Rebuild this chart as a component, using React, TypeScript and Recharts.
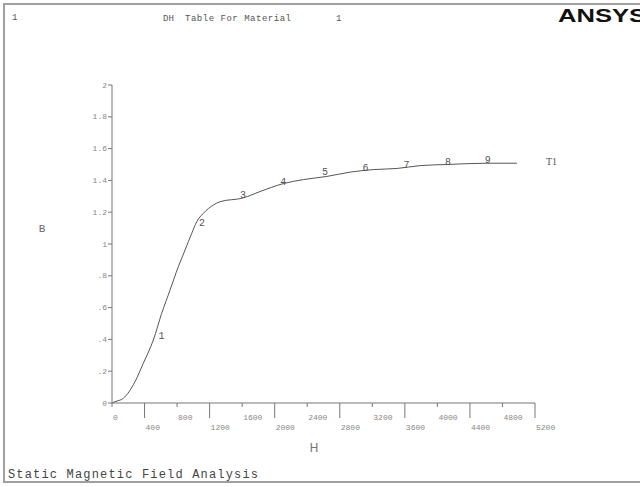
import React from "react";
import { ComposedChart, Line, Scatter, XAxis, YAxis } from "recharts";

const curveH = [0, 37, 140, 283, 385, 508, 611, 713, 815, 898, 980, 1042, 1123, 1246, 1328, 1615, 1820, 2107, 2353, 2641, 2927, 3214, 3502, 3788, 4117, 4609, 4978];
const curveB = [0, 0.008, 0.03, 0.134, 0.25, 0.396, 0.564, 0.71, 0.857, 0.962, 1.067, 1.14, 1.193, 1.245, 1.266, 1.29, 1.33, 1.38, 1.405, 1.425, 1.452, 1.468, 1.475, 1.493, 1.5, 1.508, 1.508];

const markH = [610, 1105, 1610, 2105, 2620, 3115, 3620, 4130, 4620];
const markB = [0.42, 1.13, 1.31, 1.39, 1.45, 1.475, 1.495, 1.517, 1.527];
const markText = ["1", "2", "3", "4", "5", "6", "7", "8", "9"];

const xTicks = [0, 400, 800, 1200, 1600, 2000, 2400, 2800, 3200, 3600, 4000, 4400, 4800, 5200];
const xTickLabels = ["0", "400", "800", "1200", "1600", "2000", "2400", "2800", "3200", "3600", "4000", "4400", "4800", "5200"];
const yTicks = [0, 0.2, 0.4, 0.6, 0.8, 1, 1.2, 1.4, 1.6, 1.8, 2];
const yTickLabels = ["0", ".2", ".4", ".6", ".8", "1", "1.2", "1.4", "1.6", "1.8", "2"];

const seriesName = "T1";
const titleParts = ["DH", "Table For Material", "1"];
const windowNo = "1";
const xLabel = "H";
const yLabel = "B";
const footer = "Static Magnetic Field Analysis";
const logo = "ANSYS";

const curve = curveH.map((h, i) => ({ H: h, B: curveB[i] }));
const marks = markH.map((h, i) => ({ H: h, B: markB[i], t: markText[i] }));

const MONO = "'Liberation Mono', 'DejaVu Sans Mono', monospace";
const AXIS = "#777";

const XTick = (props: any) => {
  const { x, y, index } = props;
  const odd = index % 2 === 1;
  return (
    <g>
      <line x1={x} x2={x} y1={y} y2={y + (odd ? 15 : 4)} stroke={AXIS} strokeWidth={1} />
      <text x={x + 1} y={y + (odd ? 27 : 17)} fontFamily={MONO} fontSize={8} fill="#888">
        {xTickLabels[index]}
      </text>
    </g>
  );
};

const YTick = (props: any) => {
  const { x, y, index } = props;
  return (
    <g>
      <line x1={x - 4} x2={x} y1={y} y2={y} stroke={AXIS} strokeWidth={1} />
      <text x={x - 5} y={y + 2.5} textAnchor="end" fontFamily={MONO} fontSize={8} fill="#888">
        {yTickLabels[index]}
      </text>
    </g>
  );
};

const MarkShape = (props: any) => {
  const { cx, cy, payload } = props;
  return (
    <text x={cx} y={cy + 3} textAnchor="middle" fontFamily={MONO} fontSize={10} fill="#555">
      {payload.t}
    </text>
  );
};

const EndLabel = (props: any) => {
  const { x, y, index } = props;
  if (index !== curve.length - 1) return null;
  return (
    <text x={x + 29} y={y + 2} fontFamily="'Liberation Serif', serif" fontSize={10} fill="#555">
      {seriesName}
    </text>
  );
};

export default function App() {
  return (
    <div style={{ position: "absolute", left: 0, top: 0, width: 640, height: 487, background: "#fff", overflow: "hidden" }}>
      <svg width={640} height={487} style={{ position: "absolute", left: 0, top: 0 }}>
        <rect x={4} y={4} width={660} height={478} fill="none" stroke="#a0a0a0" strokeWidth={2} />
        <text x={12} y={20} fontFamily={MONO} fontSize={9} fill="#555">{windowNo}</text>
        <text x={163} y={21} fontFamily={MONO} fontSize={9} fill="#555">{titleParts[0]}</text>
        <text x={185} y={21} fontFamily={MONO} fontSize={9} fill="#555" textLength={106} lengthAdjust="spacing">{titleParts[1]}</text>
        <text x={336} y={21} fontFamily={MONO} fontSize={9} fill="#555">{titleParts[2]}</text>
        <text x={558} y={22} fontFamily="'Liberation Sans', Arial, sans-serif" fontWeight="bold" fontSize={18} fill="#111" textLength={88} lengthAdjust="spacingAndGlyphs">{logo}</text>
        <text x={42} y={232} textAnchor="middle" fontFamily={MONO} fontSize={11} fill="#666">{yLabel}</text>
        <text x={314} y={452} textAnchor="middle" fontFamily="'DejaVu Sans', sans-serif" fontSize={12} fill="#777">{xLabel}</text>
        <text x={8} y={478} fontFamily={MONO} fontSize={12} fill="#444" textLength={250} lengthAdjust="spacing">{footer}</text>
      </svg>
      <div style={{ position: "absolute", left: 0, top: 0 }}>
        <ComposedChart width={640} height={487} margin={{ top: 85, right: 105, bottom: 83, left: 111 }}>
          <XAxis
            type="number"
            dataKey="H"
            domain={[0, 5200]}
            ticks={xTicks}
            interval={0}
            height={1}
            tickSize={0}
            tickMargin={0}
            tickLine={false}
            axisLine={{ stroke: AXIS, strokeWidth: 1 }}
            tick={<XTick />}
          />
          <YAxis
            type="number"
            dataKey="B"
            domain={[0, 2]}
            ticks={yTicks}
            interval={0}
            width={1}
            tickSize={0}
            tickMargin={0}
            tickLine={false}
            axisLine={{ stroke: AXIS, strokeWidth: 1 }}
            tick={<YTick />}
          />
          <Line
            data={curve}
            dataKey="B"
            type="monotone"
            dot={false}
            stroke="#555"
            strokeWidth={1}
            isAnimationActive={false}
            label={<EndLabel />}
          />
          <Scatter data={marks} dataKey="B" shape={<MarkShape />} isAnimationActive={false} />
        </ComposedChart>
      </div>
    </div>
  );
}
